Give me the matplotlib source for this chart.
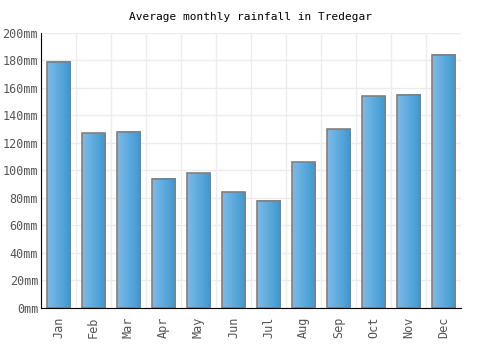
import numpy as np
import matplotlib
matplotlib.use("Agg")
import matplotlib.pyplot as plt
from matplotlib.colors import LinearSegmentedColormap

# monthly rainfall values (mm)
months = ['Jan', 'Feb', 'Mar', 'Apr', 'May', 'Jun', 'Jul', 'Aug', 'Sep', 'Oct', 'Nov', 'Dec']
rain = [179, 127, 128, 94, 98, 84, 78, 106, 130, 154, 155, 184]
yticks = [0, 20, 40, 60, 80, 100, 120, 140, 160, 180, 200]

plt.rcParams['font.family'] = ['DejaVu Sans Mono']

fig = plt.figure(figsize=(5, 3.5), dpi=100)
ax = fig.add_axes([0.082, 0.12, 0.84, 0.786])

x = np.arange(len(months))
w = 0.67
grad = LinearSegmentedColormap.from_list('g', ['#7cbbea', '#3d98cf'])
gimg = np.linspace(0, 1, 64).reshape(1, -1)

# gradient fill first, then the outline on top
bars = ax.bar(x, rain, width=w, color='none', edgecolor='none', zorder=2)
for b in bars:
    x0, y0 = b.get_x(), b.get_y()
    ax.imshow(gimg, cmap=grad, aspect='auto', extent=[x0, x0 + b.get_width(), y0, y0 + b.get_height()],
              zorder=2, interpolation='bilinear')
ax.bar(x, rain, width=w, fill=False, edgecolor='#808080', linewidth=1.2, zorder=5)

ax.set_xlim(-0.5, len(months) - 0.5)
ax.set_ylim(0, 200)
ax.set_yticks(yticks)
ax.set_yticklabels([f'{v}mm' for v in yticks])
ax.set_xticks(x)
ax.set_xticklabels(months, rotation=90)

# grid lines on category boundaries and every 20mm
ax.set_xticks(np.arange(len(months) + 1) - 0.5, minor=True)
ax.set_axisbelow(True)
ax.grid(which='minor', axis='x', color='#ececec', linewidth=1)
ax.grid(which='major', axis='y', color='#ececec', linewidth=1)

ax.tick_params(axis='both', which='both', length=0, labelsize=8.5, colors='#555555')
ax.tick_params(axis='x', pad=6)
ax.tick_params(axis='y', pad=2)
for s in ['top', 'right']:
    ax.spines[s].set_visible(False)
ax.spines['left'].set_color('black')
ax.spines['bottom'].set_color('black')
ax.spines['left'].set_zorder(6)
ax.spines['bottom'].set_zorder(6)

ax.set_title('Average monthly rainfall in Tredegar', fontsize=8, color='black', pad=9)

fig.savefig('out.png', dpi=100)
